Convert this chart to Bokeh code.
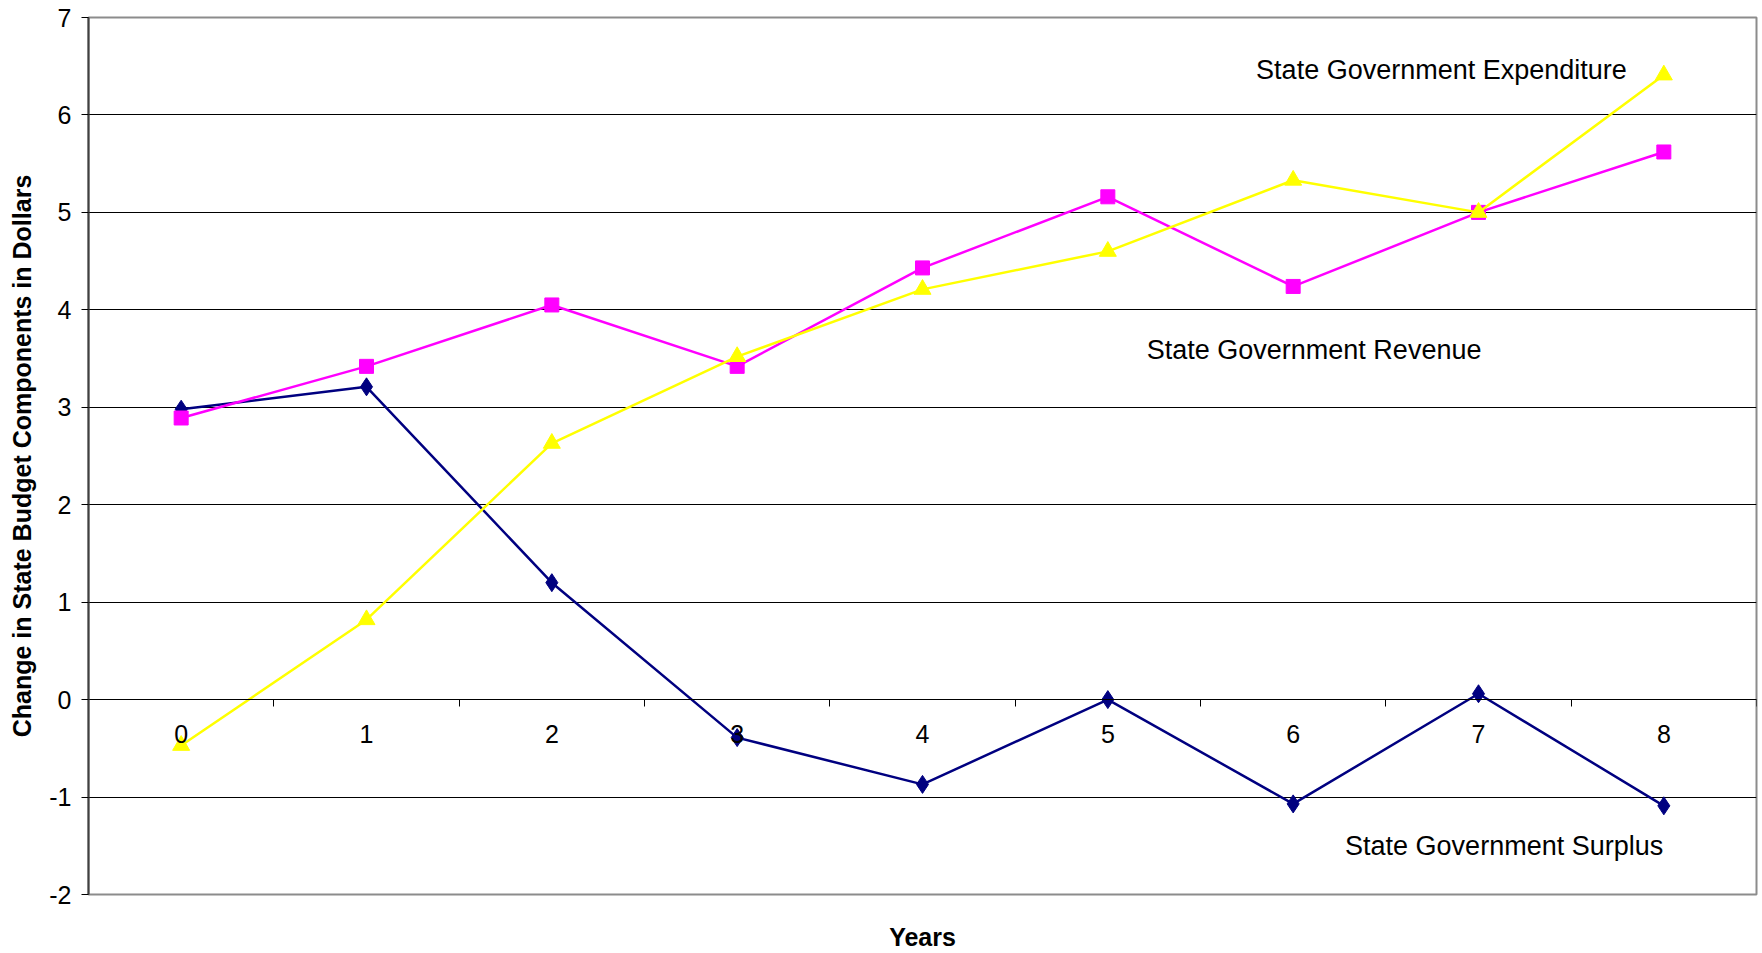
from bokeh.plotting import figure
from bokeh.models import FixedTicker, LinearAxis, Range1d, Label, ColumnDataSource
from bokeh.embed import file_html
from bokeh.resources import INLINE

years = ["0", "1", "2", "3", "4", "5", "6", "7", "8"]
surplus = [2.98, 3.21, 1.20, -0.39, -0.87, 0.00, -1.07, 0.06, -1.09]
revenue = [2.89, 3.42, 4.05, 3.42, 4.43, 5.16, 4.24, 5.00, 5.62]
expenditure = [-0.47, 0.82, 2.63, 3.52, 4.21, 4.60, 5.33, 5.00, 6.41]
y_ticks = [-2, -1, 0, 1, 2, 3, 4, 5, 6, 7]
y_tick_labels = ["-2", "-1", "0", "1", "2", "3", "4", "5", "6", "7"]

series_labels = ["State Government Expenditure", "State Government Revenue", "State Government Surplus"]
label_x = [5.80, 5.21, 6.28]
label_y = [6.46, 3.59, -1.505]

FONT = "Liberation Sans"
xs = list(range(len(years)))

p = figure(width=1762, height=953, output_backend="svg", toolbar_location=None,
           x_range=Range1d(-0.5, len(years) - 0.5), y_range=Range1d(min(y_ticks), max(y_ticks)),
           x_axis_location=None, y_axis_location="left",
           min_border_left=88, min_border_right=6, min_border_top=17, min_border_bottom=57)
p.background_fill_color = "white"
p.border_fill_color = "white"
p.outline_line_color = "#8c8c8c"
p.outline_line_width = 2

# y axis
yax = p.yaxis[0]
yax.ticker = FixedTicker(ticks=y_ticks)
yax.major_label_overrides = dict(zip(y_ticks, y_tick_labels))
yax.axis_label = "Change in State Budget Components in Dollars"
yax.axis_label_text_font = FONT
yax.axis_label_text_font_style = "bold"
yax.axis_label_text_font_size = "25px"
yax.axis_label_text_color = "black"
yax.axis_label_standoff = 10
yax.major_label_text_font = FONT
yax.major_label_text_font_size = "25px"
yax.major_label_text_color = "black"
yax.major_label_standoff = 10
yax.major_tick_out = 7
yax.major_tick_in = 0
yax.minor_tick_line_color = None
yax.axis_line_color = "#404040"
yax.axis_line_width = 2
yax.major_tick_line_color = "black"

p.ygrid.grid_line_color = "black"
p.ygrid.grid_line_width = 1
p.xgrid.visible = False

# x axis fixed at y = 0
xax = LinearAxis(fixed_location=0)
xax.ticker = FixedTicker(ticks=xs, minor_ticks=[i - 0.5 for i in range(len(years) + 1)])
xax.major_label_overrides = {i: years[i] for i in xs}
xax.major_label_text_font = FONT
xax.major_label_text_font_size = "25px"
xax.major_label_text_color = "black"
xax.major_label_standoff = 18
xax.major_tick_out = 0
xax.major_tick_in = 0
xax.minor_tick_out = 7
xax.minor_tick_in = 0
xax.minor_tick_line_color = "black"
xax.axis_line_color = "black"
p.add_layout(xax, "below")

# bottom axis carrying only the title
tax = LinearAxis(ticker=FixedTicker(ticks=[]))
tax.axis_label = "Years"
tax.axis_label_text_font = FONT
tax.axis_label_text_font_style = "bold"
tax.axis_label_text_font_size = "25px"
tax.axis_label_text_color = "black"
tax.axis_label_standoff = 28
tax.axis_line_color = None
tax.major_tick_out = 0
tax.major_tick_in = 0
tax.minor_tick_out = 0
tax.major_tick_line_color = None
tax.minor_tick_line_color = None
tax.major_label_text_font_size = "0px"
p.add_layout(tax, "below")

src = ColumnDataSource(dict(x=xs, surplus=surplus, revenue=revenue, expenditure=expenditure))

p.line("x", "surplus", source=src, line_color="#000080", line_width=2.5)
p.scatter("x", "surplus", source=src, marker="diamond", size=18, fill_color="#000080", line_color="#000080")

p.line("x", "revenue", source=src, line_color="#FF00FF", line_width=2.5)
p.scatter("x", "revenue", source=src, marker="square", size=14, fill_color="#FF00FF", line_color="#FF00FF")

p.line("x", "expenditure", source=src, line_color="#FFFF00", line_width=2.5)
p.scatter("x", "expenditure", source=src, marker="triangle", size=17, fill_color="#FFFF00", line_color="#FFFF00")

for t, lx, ly in zip(series_labels, label_x, label_y):
    p.add_layout(Label(x=lx, y=ly, text=t, text_font=FONT, text_font_size="27px",
                       text_color="black", text_baseline="middle", text_align="left"))

open("out.html", "w").write(file_html(p, INLINE))
